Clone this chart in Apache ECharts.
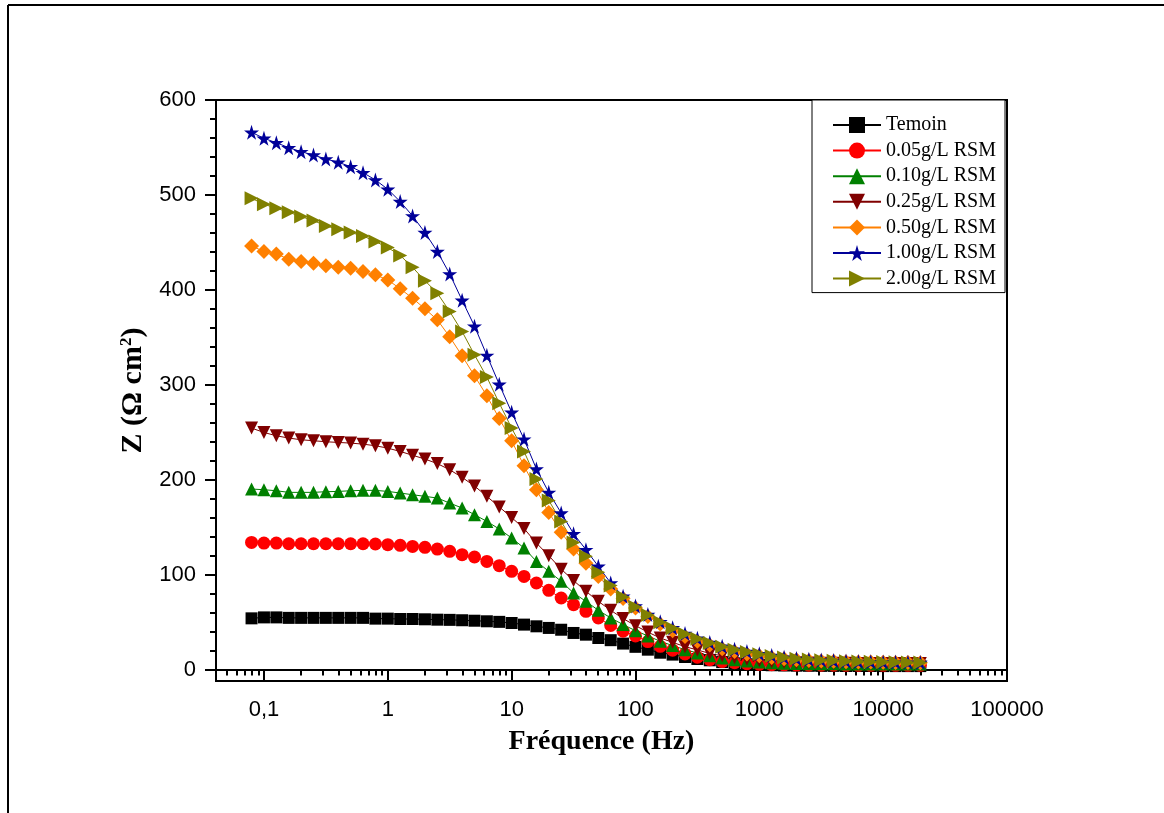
<!DOCTYPE html>
<html>
<head>
<meta charset="utf-8">
<script src="https://cdn.jsdelivr.net/npm/echarts@6.0.0/dist/echarts.min.js"></script>
<style>
  html, body { margin: 0; padding: 0; background: #fff; }
  #chart { width: 1164px; height: 813px; }
</style>
</head>
<body>
<div id="chart"></div>
<script>
// frequencies (Hz), 10 points per decade
var freq = [0.0794, 0.1, 0.1259, 0.1585, 0.1995, 0.2512, 0.3162, 0.3981, 0.5012, 0.631, 0.7943,
  1, 1.259, 1.585, 1.995, 2.512, 3.162, 3.981, 5.012, 6.31, 7.943,
  10, 12.59, 15.85, 19.95, 25.12, 31.62, 39.81, 50.12, 63.1, 79.43,
  100, 125.9, 158.5, 199.5, 251.2, 316.2, 398.1, 501.2, 631, 794.3,
  1000, 1259, 1585, 1995, 2512, 3162, 3981, 5012, 6310, 7943,
  10000, 12590, 15850, 19950];

// |Z| in ohm cm2
var temoin = [54, 55, 55, 54.5, 54.5, 54.5, 54.5, 54.5, 54.5, 54.5, 53.7,
  53.7, 53.3, 53.3, 53, 52.6, 52.4, 52, 51.5, 50.9, 50.3,
  49.1, 47.4, 45.6, 43.9, 42, 38.6, 36.8, 33.3, 31, 27.4,
  24, 21, 17.8, 15.8, 13.3, 11.2, 9.8, 7.9, 6.6, 5.6,
  5, 4.6, 4.3, 4.1, 4, 3.9, 3.9, 3.8, 3.8, 3.8,
  3.7, 3.7, 3.7, 3.7];
var rsm005 = [134, 133.3, 133.3, 132.6, 132.6, 132.6, 132.6, 132.6, 132.6, 132.6, 132.3,
  131.6, 130.9, 129.8, 128.8, 127, 124.6, 121.1, 118.6, 114, 109.5,
  103.5, 98.2, 91.2, 83.5, 75.4, 68.4, 61.4, 54.4, 46.5, 40.5,
  35.5, 29.5, 24.5, 20.5, 16.5, 13, 10.5, 8.5, 7.2, 6.2,
  5.6, 5.2, 5, 4.8, 4.7, 4.6, 4.6, 4.5, 4.5, 4.5,
  4.5, 4.5, 4.5, 4.5];
var rsm010 = [190.2, 189.5, 188.4, 186.7, 186.7, 186.7, 187.4, 187.7, 188.4, 188.8, 188.8,
  187.7, 186, 184.2, 182.5, 180.7, 175.4, 170.2, 163.2, 156.1, 148.1,
  138.6, 128.1, 114, 103.5, 93, 80.7, 71.9, 62.5, 54.4, 47.4,
  41, 35.5, 29.8, 25.3, 21, 17.5, 14.7, 12.3, 10.5, 9,
  7.9, 7.2, 6.8, 6.5, 6.3, 6.2, 6.1, 6, 6, 6,
  6, 6, 6, 6];
var rsm025 = [254.4, 249.8, 246.3, 243.9, 242.1, 241.1, 240, 239.3, 238.6, 237.5, 235.8,
  233.3, 229.8, 225.8, 221.8, 217, 210.5, 202.5, 193.4, 182.5, 171.4,
  160.2, 148.6, 133.3, 120, 105.8, 93.8, 82.5, 71.9, 62.5, 53.8,
  46.3, 39.5, 33.3, 28.7, 24.2, 20.7, 17, 14.5, 12.6, 10.8,
  9.3, 8.3, 7.7, 7.3, 7, 6.8, 6.7, 6.6, 6.5, 6.5,
  6.4, 6.4, 6.4, 6.4];
var rsm050 = [446.3, 440.4, 437.9, 432.3, 429.8, 428.1, 425.3, 423.9, 422.8, 419.3, 415.8,
  410.5, 401.2, 391.2, 380, 368.4, 350.5, 330.5, 309.5, 288.4, 264.5,
  241, 214.7, 189.5, 165.6, 144.6, 127, 112, 98, 85, 75,
  65, 56, 48, 41, 35, 30, 26, 22, 19, 16.5,
  14.5, 12.8, 11.4, 10.4, 9.7, 9.1, 8.7, 8.4, 8.1, 7.9,
  7.7, 7.5, 7.4, 7.3];
var rsm100 = [566, 559.6, 555, 549.8, 545.6, 542, 537.9, 534.4, 529.8, 523.5, 515.8,
  506, 493, 477.9, 460.4, 440.4, 416.8, 389, 361.8, 331, 300.5,
  271, 242.8, 211.3, 186.7, 164.9, 143.2, 126.3, 108.8, 91.2, 77.2,
  67, 58, 50.5, 44, 38, 33, 28.5, 24.5, 21.5, 19,
  16.8, 14.8, 13.1, 11.8, 10.8, 10.1, 9.5, 9, 8.6, 8.3,
  8.1, 7.9, 7.7, 7.6];
var rsm200 = [496.5, 490.2, 486, 481.8, 477.2, 473, 467.4, 463.9, 460.4, 456.8, 450.9,
  444.6, 436.3, 423.7, 409.7, 396.5, 377.2, 356.1, 331.6, 308.1, 280.7,
  254.4, 229.8, 200.7, 178.2, 156.1, 134, 119.3, 102.5, 88.5, 76.5,
  66, 57.5, 50, 43.5, 37.5, 32.5, 28, 24, 21, 18.5,
  16.3, 14.3, 12.7, 11.5, 10.6, 9.9, 9.3, 8.9, 8.5, 8.2,
  8, 7.8, 7.6, 7.5];

var names = ['Temoin', '0.05g/L RSM', '0.10g/L RSM', '0.25g/L RSM', '0.50g/L RSM', '1.00g/L RSM', '2.00g/L RSM'];
var xMajor = [0.1, 1, 10, 100, 1000, 10000, 100000];
var xMinor = [0.05, 0.06, 0.07, 0.08, 0.09,
  0.2, 0.3, 0.4, 0.5, 0.6, 0.7, 0.8, 0.9,
  2, 3, 4, 5, 6, 7, 8, 9,
  20, 30, 40, 50, 60, 70, 80, 90,
  200, 300, 400, 500, 600, 700, 800, 900,
  2000, 3000, 4000, 5000, 6000, 7000, 8000, 9000,
  20000, 30000, 40000, 50000, 60000, 70000, 80000, 90000];
var yMajor = [0, 100, 200, 300, 400, 500, 600];
var yMinor = [20, 40, 60, 80, 120, 140, 160, 180, 220, 240, 260, 280,
  320, 340, 360, 380, 420, 440, 460, 480, 520, 540, 560, 580];

var starPath = 'path://M50,0 L61,35 L98,35 L68,57 L79,91 L50,70 L21,91 L32,57 L2,35 L39,35 Z';

function pairs(vals) {
  var out = [];
  for (var i = 0; i < vals.length; i++) {
    out.push([freq[i], vals[i]]);
  }
  return out;
}

function mkSeries(name, vals, color, symbol, size, rotate) {
  return {
    name: name,
    type: 'line',
    data: pairs(vals),
    xAxisIndex: 0,
    yAxisIndex: 0,
    symbol: symbol,
    symbolSize: size,
    symbolRotate: rotate || 0,
    showAllSymbol: true,
    lineStyle: { color: color, width: 1 },
    itemStyle: { color: color },
    emphasis: { disabled: true }
  };
}

var chart = echarts.init(document.getElementById('chart'));
var option = {
  backgroundColor: '#fff',
  animation: false,
  grid: {
    left: 216, top: 100, right: 157, bottom: 132,
    show: true, borderColor: '#000', borderWidth: 2, backgroundColor: 'transparent'
  },
  legend: {
    orient: 'vertical',
    left: 812, top: 100,
    padding: [15, 9, 4, 20],
    itemWidth: 48, itemHeight: 20, itemGap: 5.6,
    backgroundColor: '#fff',
    borderColor: '#000', borderWidth: 1,
    textStyle: { fontFamily: 'Liberation Serif', fontSize: 20, color: '#000', lineHeight: 20 },
    data: names
  },
  xAxis: [{
    type: 'log', logBase: 10, min: 0.041, max: 100000,
    name: 'Fréquence (Hz)', nameLocation: 'middle', nameGap: 47,
    nameTextStyle: { fontFamily: 'Liberation Serif', fontWeight: 'bold', fontSize: 28, color: '#000', padding: [0, 20, 0, 0] },
    axisLine: { lineStyle: { color: '#000', width: 2 } },
    axisTick: { customValues: xMajor, length: 11, lineStyle: { color: '#000', width: 2 } },
    axisLabel: {
      customValues: xMajor, margin: 18,
      fontFamily: 'Liberation Sans', fontSize: 22, color: '#000',
      formatter: function (v) { return v < 1 ? '0,1' : String(Math.round(v)); }
    },
    splitLine: { show: false }
  }, {
    type: 'log', logBase: 10, min: 0.041, max: 100000, position: 'bottom',
    axisLine: { show: false },
    axisTick: { customValues: xMinor, length: 6, lineStyle: { color: '#000', width: 2 } },
    axisLabel: { show: false },
    splitLine: { show: false }
  }],
  yAxis: [{
    type: 'value', min: -12, max: 600,
    name: 'Z (Ω cm{sup|2})', nameLocation: 'middle', nameGap: 52,
    nameTextStyle: {
      fontFamily: 'Liberation Serif', fontWeight: 'bold', fontSize: 30, color: '#000',
      rich: { sup: { fontFamily: 'Liberation Serif', fontWeight: 'bold', fontSize: 17, color: '#000', verticalAlign: 'top', padding: [0, 0, 14, 0] } }
    },
    axisLine: { lineStyle: { color: '#000', width: 2 } },
    axisTick: { customValues: yMajor, length: 11, lineStyle: { color: '#000', width: 2 } },
    axisLabel: { customValues: yMajor, margin: 20, fontFamily: 'Liberation Sans', fontSize: 22, color: '#000' },
    splitLine: { show: false }
  }, {
    type: 'value', min: -12, max: 600, position: 'left',
    axisLine: { show: false },
    axisTick: { customValues: yMinor, length: 6, lineStyle: { color: '#000', width: 2 } },
    axisLabel: { show: false },
    splitLine: { show: false }
  }],
  graphic: [
    { type: 'line', shape: { x1: 8, y1: 5, x2: 1164, y2: 5 }, style: { stroke: '#000', lineWidth: 2 } },
    { type: 'line', shape: { x1: 8, y1: 5, x2: 8, y2: 813 }, style: { stroke: '#000', lineWidth: 2 } }
  ],
  series: [
    mkSeries(names[0], temoin, '#000000', 'rect', 12),
    mkSeries(names[1], rsm005, '#ff0000', 'circle', 13),
    mkSeries(names[2], rsm010, '#008000', 'triangle', 13),
    mkSeries(names[3], rsm025, '#800000', 'triangle', 13, 180),
    mkSeries(names[4], rsm050, '#ff8000', 'diamond', 15),
    mkSeries(names[5], rsm100, '#000099', starPath, 15),
    mkSeries(names[6], rsm200, '#808000', 'triangle', 14, -90)
  ]
};
chart.setOption(option);
</script>
</body>
</html>
